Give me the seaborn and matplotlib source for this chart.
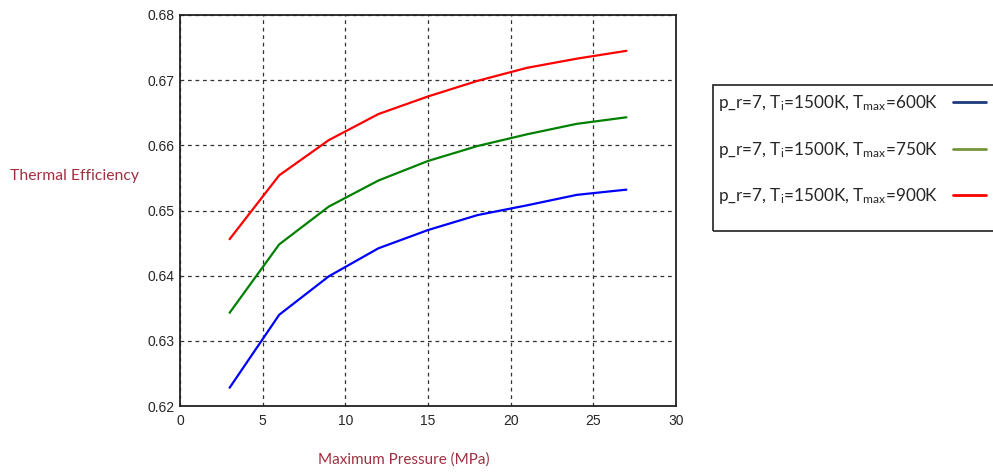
import matplotlib
matplotlib.use("Agg")
import matplotlib.pyplot as plt
from matplotlib.lines import Line2D
from matplotlib.patches import Rectangle
import seaborn as sns
import pandas as pd

pressure = [3, 6, 9, 12, 15, 18, 21, 24, 27]
eff_600 = [0.6228, 0.6340, 0.6399, 0.6442, 0.6470, 0.6493, 0.6508, 0.6524, 0.6532]
eff_750 = [0.6343, 0.6448, 0.6506, 0.6546, 0.6576, 0.6599, 0.6617, 0.6633, 0.6643]
eff_900 = [0.6456, 0.6554, 0.6608, 0.6648, 0.6675, 0.6699, 0.6719, 0.6733, 0.6745]
series_names = ["600K", "750K", "900K"]
line_colors = ["#0000ff", "#008000", "#ff0000"]
legend_colors = ["#1f3a7a", "#77933c", "#ff0000"]
x_ticks = [0, 5, 10, 15, 20, 25, 30]
y_ticks = [0.62, 0.63, 0.64, 0.65, 0.66, 0.67, 0.68]

rows = []
for name, vals in zip(series_names, [eff_600, eff_750, eff_900]):
    for p, v in zip(pressure, vals):
        rows.append({"p": p, "eff": v, "series": name})
df = pd.DataFrame(rows)

sns.set_theme(style="white")
plt.rcParams["mathtext.fontset"] = "custom"
plt.rcParams["mathtext.rm"] = "Lato"
plt.rcParams["mathtext.default"] = "regular"

W, H = 993, 472
fig = plt.figure(figsize=(W / 100, H / 100), dpi=100)
ax = fig.add_axes([180 / W, 1 - 406 / H, 496 / W, 391 / H])

sns.lineplot(data=df, x="p", y="eff", hue="series", hue_order=series_names,
             palette=line_colors, linewidth=1.6, legend=False, ax=ax)

ax.set_xlim(0, 30)
ax.set_ylim(0.62, 0.68)
ax.set_xticks(x_ticks)
ax.set_yticks(y_ticks)
ax.set_xticklabels([str(t) for t in x_ticks], family="Liberation Sans", fontsize=10)
ax.set_yticklabels([f"{t:.2f}" for t in y_ticks], family="Liberation Sans", fontsize=10)
ax.tick_params(axis="x", length=0, pad=6)
ax.tick_params(axis="y", length=0, pad=4)
ax.grid(True, color="#333333", linestyle=(0, (3, 3)), linewidth=0.9)
for s in ax.spines.values():
    s.set_color("#222222")
    s.set_linewidth(1.3)

ax.set_xlabel("")
ax.set_ylabel("")
label_color = "#a03040"
fig.text(404 / W, 1 - 460 / H, "Maximum Pressure (MPa)", ha="center", va="center",
         family="Lato", fontsize=11, color=label_color)
fig.text(10 / W, 1 - 176 / H, "Thermal Efficiency", ha="left", va="center",
         family="Lato", fontsize=11.3, color=label_color)

# legend frame drawn as a box (extends past the right edge like the reference)
fig.patches.append(Rectangle((712.5 / W, 1 - 231 / H), 300 / W, 146 / H,
                             transform=fig.transFigure, fill=False,
                             edgecolor="#333333", linewidth=1.3))

handles = [Line2D([0], [0], color=c, linewidth=2) for c in legend_colors]
labels = [f"p_r=7, T$_{{i}}$=1500K, T$_{{max}}$={n}" for n in series_names]
leg = fig.legend(handles, labels, loc="upper left", bbox_to_anchor=(715 / W, 1 - 90 / H),
                 markerfirst=False, frameon=False,
                 prop={"family": "Lato", "size": 12.3}, labelspacing=1.55,
                 handlelength=1.9, borderpad=0.2, handletextpad=0.85,
                 borderaxespad=0)

fig.savefig("out.png", dpi=100)
